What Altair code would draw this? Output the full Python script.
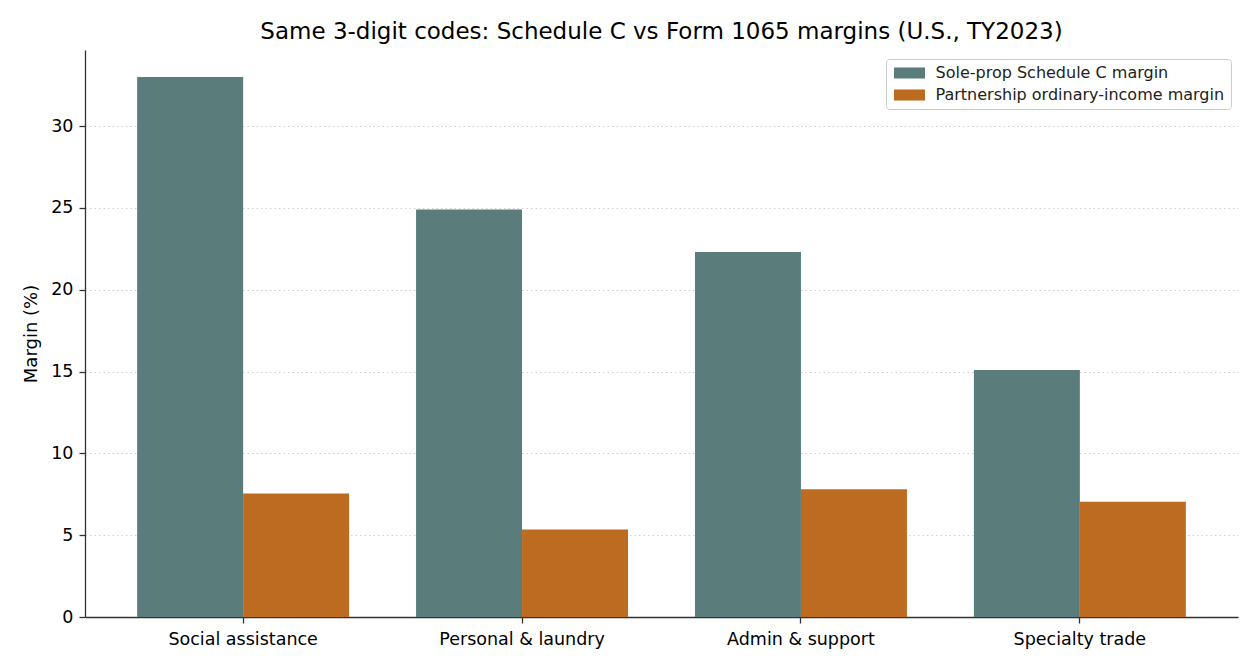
import pandas as pd
import altair as alt

# Values
categories = ["Social assistance", "Personal & laundry", "Admin & support", "Specialty trade"]
sole_prop_margin = [33.0, 24.9, 22.3, 15.1]
partnership_margin = [7.55, 5.35, 7.8, 7.05]
series_names = ["Sole-prop Schedule C margin", "Partnership ordinary-income margin"]
series_colors = ["#5a7d7c", "#bc6b21"]
y_ticks = [0, 5, 10, 15, 20, 25, 30]


def make_chart() -> alt.Chart:
    # long format: one row per bar
    rows = []
    for cat, s, p in zip(categories, sole_prop_margin, partnership_margin):
        rows.append({"Category": cat, "Series": series_names[0], "Margin": s})
        rows.append({"Category": cat, "Series": series_names[1], "Margin": p})
    df = pd.DataFrame(rows)

    # wide flat rectangle for the legend swatch (31 x 11 px with symbolSize 144)
    legend_rect = "M-2.58,-0.92H2.58V0.92H-2.58Z"

    bars = (
        alt.Chart(df)
        .mark_bar()
        .encode(
            x=alt.X(
                "Category:N",
                sort=categories,
                title=None,
                scale=alt.Scale(paddingInner=0.24, paddingOuter=0.187),
                axis=alt.Axis(labelAngle=0, tickSize=6, labelPadding=7,
                              labelFontSize=17.5, grid=False),
            ),
            xOffset=alt.XOffset(
                "Series:N",
                sort=series_names,
                scale=alt.Scale(paddingInner=0, paddingOuter=0),
            ),
            y=alt.Y(
                "Margin:Q",
                title="Margin (%)",
                scale=alt.Scale(domain=[0, 34.65], nice=False, zero=True),
                axis=alt.Axis(values=y_ticks, tickSize=6, labelPadding=6,
                              labelFontSize=17.5, titleFontSize=18,
                              titleFontWeight="normal", titlePadding=10,
                              grid=True, gridDash=[1.5, 3], gridColor="#cfcfcf",
                              gridWidth=1),
            ),
            color=alt.Color(
                "Series:N",
                sort=series_names,
                scale=alt.Scale(domain=series_names, range=series_colors),
                legend=alt.Legend(
                    title=None,
                    orient="none",
                    legendX=801,
                    legendY=9,
                    symbolType=legend_rect,
                    symbolSize=144,
                    symbolOffset=9.5,
                    symbolStrokeWidth=0,
                    labelFontSize=16,
                    labelOffset=18,
                    labelLimit=400,
                    rowPadding=6,
                    padding=6,
                    strokeColor="#cccccc",
                    fillColor="#ffffff",
                    cornerRadius=3,
                ),
            ),
        )
    )

    chart = bars.properties(
        width=1153,
        height=567,
        autosize=alt.AutoSizeParams(type="none"),
        padding={"left": 77, "top": 42, "right": 14, "bottom": 40},
        title=alt.TitleParams(
            "Same 3-digit codes: Schedule C vs Form 1065 margins (U.S., TY2023)",
            fontSize=23,
            fontWeight="normal",
            anchor="middle",
            offset=6,
            color="#000000",
        ),
    )
    return chart


def main():
    chart = make_chart().configure(font="DejaVu Sans").configure_view(stroke=None).configure_axis(
        domainColor="#333333",
        tickColor="#333333",
        labelColor="#000000",
        titleColor="#000000",
        domainWidth=1.3,
        tickWidth=1.3,
        labelFont="DejaVu Sans",
        titleFont="DejaVu Sans",
    ).configure_legend(labelFont="DejaVu Sans", labelColor="#222222")
    chart.save("out.html", embed_options={"renderer": "svg", "actions": False})


if __name__ == "__main__":
    main()
